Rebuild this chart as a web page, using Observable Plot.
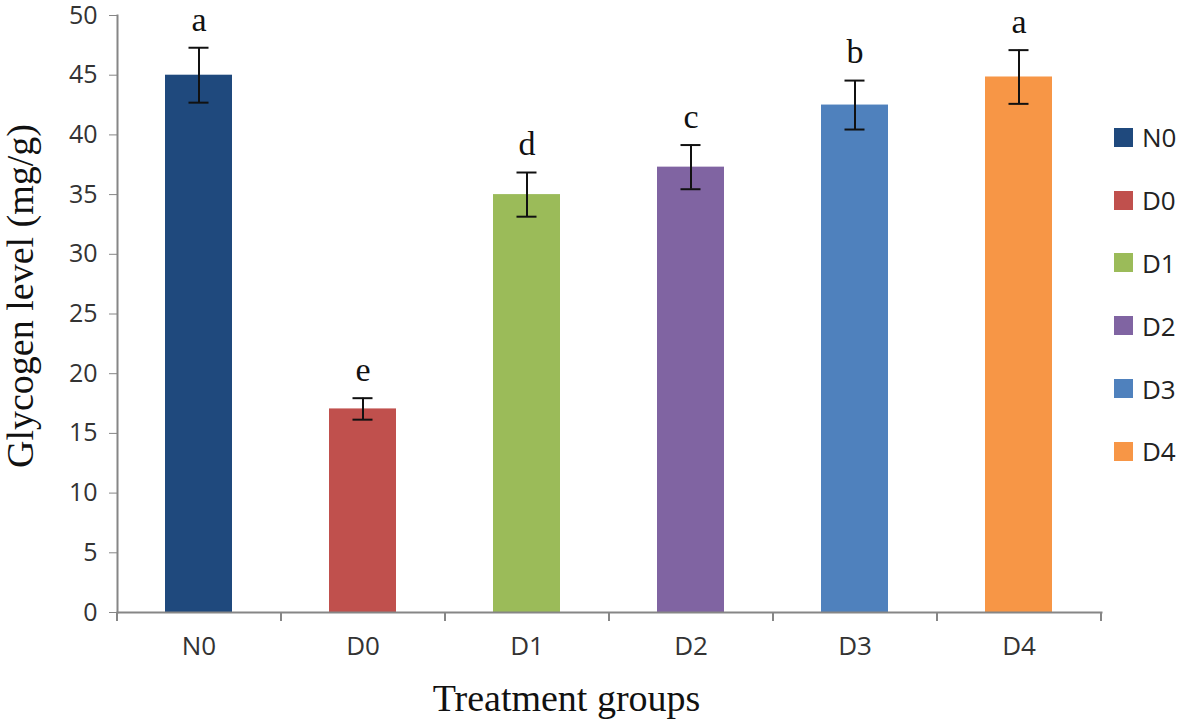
<!DOCTYPE html>
<html>
<head>
<meta charset="utf-8">
<script src="https://cdn.jsdelivr.net/npm/d3@7"></script>
<script src="https://cdn.jsdelivr.net/npm/@observablehq/plot@0.6"></script>
<style>
  html, body { margin: 0; padding: 0; background: #fff; }
  #wrap { position: relative; width: 1181px; height: 722px; }
  #legend { position: absolute; left: 1114px; top: 106px; font-family: "Open Sans", "Noto Sans", sans-serif; font-size: 26px; color: #222; }
  .item { display: flex; align-items: center; height: 62.8px; }
  .sw { width: 19px; height: 19px; margin-right: 9px; }
</style>
</head>
<body>
<div id="wrap"><div id="chart"></div><div id="legend"></div></div>
<script>
const groups = ["N0", "D0", "D1", "D2", "D3", "D4"];
const means  = [45.0, 17.05, 35.0, 37.3, 42.5, 44.85];
const errors = [2.3, 0.9, 1.85, 1.85, 2.05, 2.25];
const letters = ["a", "e", "d", "c", "b", "a"];
const colors = ["#1F497D", "#C0504D", "#9BBB59", "#8064A2", "#4F81BD", "#F79646"];
const yTicks = [0, 5, 10, 15, 20, 25, 30, 35, 40, 45, 50];

const data = groups.map((g, i) => ({group: g, mean: means[i], lo: means[i] - errors[i], hi: means[i] + errors[i], letter: letters[i]}));

const serif = "'Liberation Serif', 'Times New Roman', serif";
const sans = "'Open Sans', 'Noto Sans', sans-serif";
const axisColor = "#868686";
const step = (1181 - 117 - 80) / groups.length;

const chart = Plot.plot({
  width: 1181,
  height: 722,
  marginLeft: 117,
  marginRight: 80,
  marginTop: 15,
  marginBottom: 110,
  style: {overflow: "visible"},
  x: {domain: groups, paddingInner: 0.59, paddingOuter: 0.295, axis: null},
  y: {domain: [0, 50], axis: null},
  color: {domain: groups, range: colors},
  marks: [
    Plot.barY(data, {x: "group", y: "mean", fill: "group"}),
    Plot.ruleX(data, {x: "group", y1: "lo", y2: "hi", stroke: "#111", strokeWidth: 2}),
    Plot.tickY(data, {x: "group", y: "lo", stroke: "#111", strokeWidth: 2, insetLeft: 23.5, insetRight: 23.5}),
    Plot.tickY(data, {x: "group", y: "hi", stroke: "#111", strokeWidth: 2, insetLeft: 23.5, insetRight: 23.5}),
    Plot.text(data, {x: "group", y: "hi", text: "letter", dy: -28, fontSize: 34, fontFamily: serif, fill: "#111", lineAnchor: "middle"}),
    Plot.axisY({ticks: yTicks, tickSize: 8, tickPadding: 12, stroke: axisColor, fontSize: 25, fontFamily: sans, fill: "#333", label: null}),
    Plot.axisX({tickSize: 0, tickPadding: 24, fontSize: 26, fontFamily: sans, fill: "#333", label: null}),
    Plot.frame({anchor: "left", stroke: axisColor, strokeWidth: 2}),
    Plot.frame({anchor: "bottom", stroke: axisColor, strokeWidth: 2}),
    Plot.ruleX(data, {x: "group", dx: -step / 2, insetTop: 597, insetBottom: -9, stroke: axisColor, strokeWidth: 2}),
    Plot.ruleX(data.slice(-1), {x: "group", dx: step / 2, insetTop: 597, insetBottom: -9, stroke: axisColor, strokeWidth: 2}),
    Plot.text(["Glycogen level (mg/g)"], {frameAnchor: "left", textAnchor: "middle", lineAnchor: "middle", rotate: -90, dx: -97, dy: -18, fontSize: 38, fontFamily: serif, fill: "#111"}),
    Plot.text(["Treatment groups"], {frameAnchor: "bottom", textAnchor: "middle", lineAnchor: "middle", dx: -43, dy: 86, fontSize: 38, fontFamily: serif, fill: "#111"})
  ]
});
document.getElementById("chart").appendChild(chart);

const legend = document.getElementById("legend");
groups.forEach((g, i) => {
  const row = document.createElement("div");
  row.className = "item";
  row.innerHTML = `<span class="sw" style="background:${colors[i]}"></span><span>${g}</span>`;
  legend.appendChild(row);
});
</script>
</body>
</html>
